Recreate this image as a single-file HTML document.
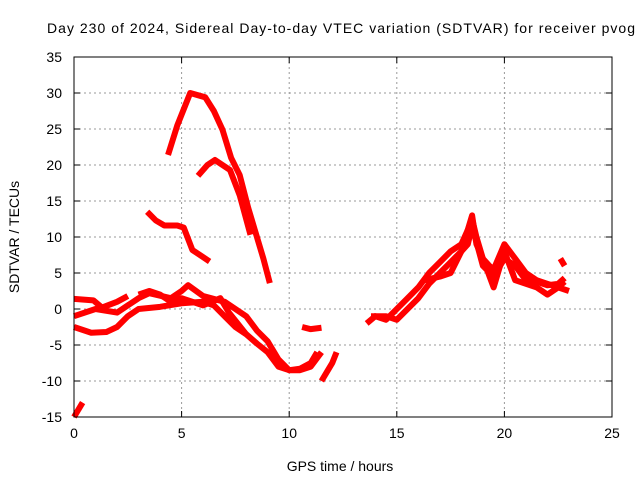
<!DOCTYPE html>
<html><head><meta charset="utf-8"><style>
body{margin:0;background:#fff}
svg{display:block;font-family:"Liberation Sans",sans-serif}
</style></head><body>
<svg id="chart" width="640" height="480">
<text x="47" y="33" font-size="14" textLength="588" lengthAdjust="spacing" fill="#000">Day 230 of 2024, Sidereal Day-to-day VTEC variation (SDTVAR) for receiver pvog</text>
<text x="340" y="471" text-anchor="middle" font-size="14">GPS time / hours</text>
<text transform="translate(19,237) rotate(-90)" text-anchor="middle" font-size="14">SDTVAR / TECUs</text>
<g id="grid"></g><g id="series"></g><g id="axes"></g>
</svg>
<script>
const xTicks=[0,5,10,15,20,25];
const yTicks=[-15,-10,-5,0,5,10,15,20,25,30,35];
const s1=[[4.37,21.4],[4.8,25.5],[5.4,30],[6.1,29.4],[6.5,27.5],[6.9,24.9],[7.3,21],[7.7,18.6],[8.1,14],[8.4,11],[8.8,7],[9.1,3.6]];
const s2=[[5.76,18.5],[6.2,20],[6.55,20.7],[7.25,19.3],[7.7,15.8],[8.2,10.3]];
const s3=[[3.4,13.5],[3.8,12.3],[4.2,11.6],[4.8,11.6],[5.1,11.3],[5.5,8.2],[6,7.2],[6.3,6.6]];
const s4=[[0,1.4],[0.9,1.2],[1.3,0.2],[2,1],[2.5,1.8]];
const s5=[[0,-1],[1,0],[2,-0.5],[3,1.5],[3.5,2.2],[4.5,1.5],[5,2.5],[5.3,3.3],[6,1.8],[7,1],[8,-1],[8.5,-3],[9,-4.5],[9.5,-7],[10,-8.5],[10.5,-8.5],[11,-8],[11.5,-6]];
const s6=[[0,-2.5],[0.8,-3.3],[1.5,-3.2],[2,-2.5],[2.5,-1],[3,0],[4,0.3],[5,0.8],[6,1],[6.5,0.5],[7,-1],[7.5,-2.5],[8,-3.5],[8.5,-4.8],[9,-6],[9.5,-8],[10,-8.5],[10.5,-8.3],[11,-7.5],[11.3,-6]];
const s7=[[3,2],[3.5,2.5],[4,2],[4.5,1],[5,1.5],[6,0.5],[6.8,1.5],[7.2,-0.5],[7.6,-2],[8,-3.5]];
const s8=[[10.6,-2.5],[11,-2.8],[11.5,-2.6]];
const s9=[[0,-15],[0.4,-13]];
const s10=[[11.5,-10],[11.8,-8.5],[12,-7.5],[12.2,-6]];
const s11=[[13.6,-2],[14,-1],[14.5,-1.5],[15,0],[15.5,1.5],[16,3],[16.5,5],[17,6.5],[17.5,8],[18,9],[18.3,11],[18.5,12.5],[18.7,10],[19,7],[19.3,6],[19.5,5.5],[20,9],[20.5,7],[21,5],[21.5,4],[22,3.5],[22.5,3],[22.8,3.8]];
const s12=[[13.8,-1],[14.5,-1],[15,-1.5],[15.5,0],[16,1.5],[16.5,3.5],[17,5],[17.5,6.5],[18,8],[18.3,9],[18.5,11.5],[19,6],[19.5,4.5],[20,7],[20.5,6],[21,4],[21.5,3.8],[22,3.3],[22.5,3.5],[22.8,4.3]];
const s13=[[16.3,4],[17,4.5],[17.5,5],[18,8],[18.5,13],[18.7,9],[19,7],[19.5,3],[20,8],[20.5,4],[21,3.5],[21.5,3],[22,2],[22.5,3],[23,2.5]];
const s14=[[22.6,7],[22.8,6]];
const allSeries=[s1,s2,s3,s4,s5,s6,s7,s8,s9,s10,s11,s12,s13,s14];
const X0=74,X1=612,Y0=417,Y1=57;
const sx=h=>X0+(h-0)/(25-0)*(X1-X0);
const sy=v=>Y0-(v+15)/(35+15)*(Y0-Y1);
const NS="http://www.w3.org/2000/svg";
const grid=document.getElementById('grid'),axes=document.getElementById('axes'),ser=document.getElementById('series');
function mk(tag,attrs,parent){const e=document.createElementNS(NS,tag);for(const k in attrs)e.setAttribute(k,attrs[k]);parent.appendChild(e);return e;}
xTicks.forEach(t=>{
  const x=sx(t);
  if(t>0&&t<25){const g=mk('line',{x1:x,x2:x,y1:Y1,y2:Y0,stroke:'#999','stroke-dasharray':'2,3'},grid);
  
  }
  mk('line',{x1:x,x2:x,y1:Y0,y2:Y0-6,stroke:'#000'},axes);
  mk('line',{x1:x,x2:x,y1:Y1,y2:Y1+6,stroke:'#000'},axes);
  const tx=mk('text',{x:x,y:Y0+21,'text-anchor':'middle','font-size':14},axes);tx.textContent=t;
  
  
});
yTicks.forEach(t=>{
  const y=sy(t);
  if(t>-15&&t<35){const g=mk('line',{x1:X0,x2:X1,y1:y,y2:y,stroke:'#999','stroke-dasharray':'2,3'},grid);
  
  }
  mk('line',{x1:X0,x2:X0+6,y1:y,y2:y,stroke:'#000'},axes);
  mk('line',{x1:X1,x2:X1-6,y1:y,y2:y,stroke:'#000'},axes);
  const tx=mk('text',{x:X0-12,y:y+5,'text-anchor':'end','font-size':14},axes);tx.textContent=t;
  
  
});
const fr=mk('rect',{x:X0,y:Y1,width:X1-X0,height:Y0-Y1,fill:'none',stroke:'#000'},axes);


allSeries.forEach(s=>{
  const p=mk('polyline',{points:s.map(d=>sx(d[0])+','+sy(d[1])).join(' '),fill:'none',stroke:'#f00','stroke-width':6,'stroke-linejoin':'round'},ser);
  
  
});
</script>
</body></html>
